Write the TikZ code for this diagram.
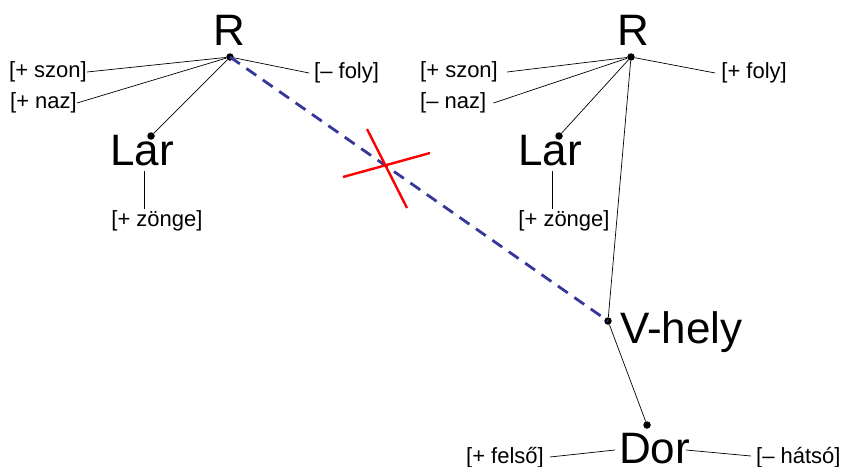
\documentclass[tikz,border=0pt]{standalone}
\usepackage{fontspec}
\setmainfont{Liberation Sans}
\definecolor{delblue}{RGB}{55,55,155}
\begin{document}
\begin{tikzpicture}[x=1pt,y=-1pt,
  big/.style={font=\fontsize{44}{44}\selectfont,inner sep=0pt,anchor=base},
  feat/.style={font=\fontsize{22}{22}\selectfont,inner sep=0pt},
  dot/.style={circle,fill=black,inner sep=0pt,minimum size=7.5pt},
  link/.style={line width=0.7pt},
  deleted/.style={draw=delblue,line width=2.8pt,dash pattern=on 12pt off 8pt},
  cross/.style={draw=red,line width=2.4pt}]
\useasboundingbox (0,0) rectangle (845,466);
% left tree
\node[big] (R1) at (229,45) {R};
\node[dot] (dR1) at (230,57) {};
\node[feat,anchor=east] (sz1) at (87,72) {[+ szon]};
\node[feat,anchor=east] (nz1) at (77,103) {[+ naz]};
\node[feat,anchor=west,inner xsep=5pt] (fl1) at (309,73) {[– foly]};
\node[big,anchor=base west] (L1) at (110,165) {Lar};
\node[dot] (dL1) at (151,136) {};
\coordinate (L1b) at (144,171);
\node[feat,anchor=north,inner ysep=1pt] (zg1) at (157,209) {[+ zönge]};
\draw[link] (dR1) -- (sz1.east);
\draw[link] (dR1) -- (nz1.east);
\draw[link] (dR1) -- (fl1.west);
\draw[link] (dR1) -- (dL1);
\draw[link] (L1b) -- (L1b |- zg1.north);
% right tree
\node[big] (R2) at (633,45) {R};
\node[dot] (dR2) at (631,57) {};
\node[feat,anchor=west,inner xsep=0pt] (sz2) at (420,72) {[+ szon]};
\node[feat,anchor=west] (nz2) at (420,103) {[– naz]};
\node[feat,anchor=east] (fl2) at (787,73) {[+ foly]};
\node[big,anchor=base west] (L2) at (518,165) {Lar};
\node[dot] (dL2) at (559,136) {};
\coordinate (L2b) at (552,171);
\node[feat,anchor=north,inner ysep=1pt] (zg2) at (564,209) {[+ zönge]};
\draw[link] (dR2) -- ([xshift=9pt]sz2.east);
\draw[link] (dR2) -- ([xshift=7pt]nz2.east);
\draw[link] (dR2) -- ([xshift=-6pt]fl2.west);
\draw[link] (dR2) -- (dL2);
\draw[link] (L2b) -- (L2b |- zg2.north);
% V-hely and Dor
\node[dot] (dV) at (608,321) {};
\node[big,anchor=base west] (V) at (620,343) {V-hely};
\node[dot] (dD) at (647,425) {};
\node[big,anchor=base west] (D) at (619,463) {Dor};
\node[feat,anchor=base east] (fe) at (544,463) {[+ felső]};
\node[feat,anchor=base west] (ha) at (756,463) {[– hátsó]};
\draw[link] (dR2) -- (dV);
\draw[link] (dV) -- (dD);
\draw[link] ([xshift=6pt]fe.east |- 0,457) -- (615,450);
\draw[link] (686,450) -- ([xshift=-5pt]ha.west |- 0,456);
% deleted association
\draw[deleted] (dR1.center) -- (dV.center);
\coordinate (x1) at (343,177);
\coordinate (x2) at (430,153);
\coordinate (x3) at (367,129);
\coordinate (x4) at (407,208);
\draw[cross] (x1) -- (x2);
\draw[cross] (x3) -- (x4);
\end{tikzpicture}
\end{document}
